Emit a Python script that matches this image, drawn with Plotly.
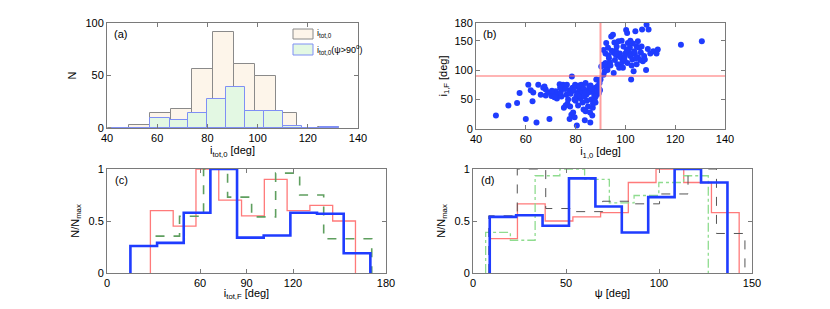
import numpy as np
import plotly.graph_objects as go

# ---------------- Panel (a): histograms of i_tot,0 ----------------
a_all_edges = [40.4, 48.8, 57.1, 65.5, 73.9, 82.2, 90.6, 99.0, 107.3, 115.7, 124.1, 132.4]
a_all_counts = [0, 3, 14, 18, 56, 91, 61, 50, 14, 0, 1]
a_sub_edges = [42.0, 49.6, 57.1, 64.9, 72.2, 79.8, 87.5, 95.0, 102.6, 110.0, 117.5, 125.0, 132.6]
a_sub_counts = [0, 0, 10, 8, 14, 28, 39, 16, 16, 2, 0, 1]

# ---------------- Panel (b): scatter i_1,0 vs i_1,F ----------------
b_x = [48, 53, 56.5, 57.5, 60, 61, 62, 62.7, 64.3, 65,
       67, 68, 68, 69, 69.5, 70.3, 71, 72, 72.5, 73,
       73.6, 74.3, 75, 75.6, 76.3, 76.5, 75.3, 76, 76.7, 77,
       77.6, 78.3, 78.5, 79, 79.6, 80.3, 80.5, 80.8, 81.2, 81.6,
       82, 82.3, 82.8, 83.2, 83.7, 84, 84.3, 84.8, 85, 85.5,
       85.9, 86.2, 86.7, 86.9, 87.2, 87.6, 87.9, 88.1, 88.3, 88.6,
       88.9, 89.2, 89.5, 89.6, 89.4, 74, 74.8, 73.8, 77.5, 78,
       78.8, 79.3, 79.8, 80, 80.6, 81, 81.8, 82.6, 83, 83.5,
       84.5, 85.2, 85.8, 86.5, 87, 70.5, 71.5, 66, 67.5, 63,
       77.8, 79.5, 84, 86, 88, 76, 81.4, 83.8, 87.5, 89.8,
       90, 90.3, 91, 91.2, 91.7, 92, 92.5, 91.2, 92, 92.3,
       93, 93.4, 93.8, 94.3, 95, 95.6, 95.2, 96.2, 97, 97.2,
       97.8, 98, 98.4, 98.8, 99.2, 99.6, 100, 100.3, 100.7, 101,
       101.5, 102, 102.3, 102.8, 103.3, 103.8, 104, 104.5, 105, 105.6,
       106.2, 106.7, 107, 107.5, 108.3, 108.5, 109.3, 109, 110, 111.2,
       113, 112.5, 122.3, 130.7, 94, 95.8, 96.8, 99, 100.8, 104.5,
       106, 93.2, 96.5, 98.5, 101.8, 103, 105, 94.5, 97.5, 99.8,
       102.5, 104.2, 107.8, 92.8, 95.3, 96, 100.5, 102, 103.6, 106.5]
b_y = [23, 40, 44, 61, 17, 75, 66, 47, 11, 75,
       70, 67, 57, 62, 17, 56, 60, 64, 52, 58,
       76, 55, 75, 72, 58, 75, 36, 40, 43, 50,
       17, 24, 89, 28, 20, 55, 6, 72, 62, 68,
       52, 75, 45, 33, 15, 30, 58, 66, 38, 72,
       11, 50, 23, 36, 62, 50, 70, 55, 84, 65,
       73, 60, 68, 78, 62, 62, 68, 70, 66, 60,
       70, 65, 75, 48, 58, 40, 56, 64, 70, 55,
       48, 62, 28, 68, 43, 65, 54, 58, 72, 62,
       38, 50, 78, 74, 45, 68, 74, 62, 56, 66,
       84, 106, 109, 92, 98, 112, 104, 134, 128, 146,
       138, 120, 113, 157, 160, 147, 130, 133, 125, 149,
       128, 122, 106, 114, 140, 118, 128, 168, 163, 146,
       130, 124, 84, 118, 98, 128, 166, 140, 122, 138,
       130, 169, 115, 124, 100, 177, 169, 136, 128, 132,
       135, 128, 143, 149, 108, 117, 110, 104, 112, 110,
       117, 125, 140, 150, 138, 145, 149, 133, 104, 124,
       108, 120, 118, 100, 95, 127, 135, 150, 132, 140]
b_threshold = 90

# ---------------- Panel (c): normalised distributions of i_tot,F ----------------
c_red_edges = [28.0, 42.7, 57.4, 72.1, 86.8, 101.5, 116.2, 130.9, 145.6, 160.3]
c_red_vals = [0.60, 0.45, 1.00, 0.70, 0.55, 0.90, 0.60, 0.65, 0.50]
c_green_edges = [31.3, 46.8, 62.3, 77.8, 93.3, 108.8, 124.3, 139.8, 155.3, 170.8]
c_green_vals = [0.355, 0.545, 1.00, 0.73, 0.54, 0.96, 0.75, 0.33, 0.33]
c_blue_edges = [15.1, 32.3, 49.5, 66.7, 83.9, 101.1, 118.3, 135.5, 152.7, 169.9]
c_blue_vals = [0.26, 0.29, 0.58, 1.00, 0.34, 0.36, 0.58, 0.57, 0.19]

# ---------------- Panel (d): normalised distributions of psi ----------------
d_red_edges = [9.0, 23.9, 38.8, 53.7, 68.6, 83.5, 98.4, 113.3, 128.2, 143.1]
d_red_vals = [0.33, 0.665, 0.50, 0.54, 0.58, 0.87, 1.00, 0.87, 0.58]
d_green_edges = [6.8, 20.1, 33.4, 46.7, 60.0, 73.3, 86.6, 99.9, 113.2, 126.5]
d_green_vals = [0.39, 0.315, 0.935, 1.00, 0.90, 0.675, 0.745, 0.87, 0.935]
d_black_edges = [8.5, 23.8, 39.1, 54.4, 69.7, 85.0, 100.3, 115.6, 130.9, 146.2]
d_black_vals = [0.55, 1.00, 0.62, 0.59, 0.69, 0.665, 0.76, 1.00, 0.38]
d_blue_edges = [9.0, 23.2, 37.4, 51.6, 65.8, 80.0, 94.2, 108.4, 122.6, 136.8]
d_blue_vals = [0.54, 0.555, 0.455, 0.91, 0.64, 0.39, 0.73, 1.00, 0.87]

# ---------------- styling ----------------
FONT = "Liberation Sans, Arial, Helvetica, sans-serif"
AX_COL = "#7a7a7a"
RED = "#ff7a7a"
BLUE = "#1f3cff"
OFF = 8                      # default page body margin
W, H = 830 - 2 * OFF, 309 - 2 * OFF


def px_dom_x(a, b):
    return [(a - OFF) / W, (b - OFF) / W]


def px_dom_y(top, bottom):
    return [1 - (bottom - OFF) / H, 1 - (top - OFF) / H]


def px_x(a):
    return (a - OFF) / W


def px_y(b):
    return 1 - (b - OFF) / H


def stairs(edges, vals, start_zero=True):
    xs = list(edges)
    ys = list(vals) + [0]
    if start_zero:
        xs = [edges[0]] + xs
        ys = [0] + ys
    return xs, ys


fig = go.Figure()

# Panel (a) bars
ae = np.array(a_all_edges)
fig.add_trace(go.Bar(x=(ae[:-1] + ae[1:]) / 2, y=a_all_counts, width=np.diff(ae),
                     marker=dict(color="#fdf5ea", line=dict(color="#8a8a8a", width=1)),
                     xaxis="x", yaxis="y", showlegend=False))
se = np.array(a_sub_edges)
fig.add_trace(go.Bar(x=(se[:-1] + se[1:]) / 2, y=a_sub_counts, width=np.diff(se),
                     marker=dict(color="#e3f8e3", line=dict(color="#7f8ff5", width=1)),
                     xaxis="x", yaxis="y", showlegend=False))

# Panel (b) scatter + thresholds
fig.add_trace(go.Scatter(x=b_x, y=b_y, mode="markers",
                         marker=dict(color=BLUE, size=6, line=dict(width=0)),
                         xaxis="x2", yaxis="y2", showlegend=False))
fig.add_trace(go.Scatter(x=[b_threshold, b_threshold], y=[0, 180], mode="lines",
                         line=dict(color="#ff9f9f", width=2),
                         xaxis="x2", yaxis="y2", showlegend=False))
fig.add_trace(go.Scatter(x=[40, 140], y=[b_threshold, b_threshold], mode="lines",
                         line=dict(color="#ff6a6a", width=1.2),
                         xaxis="x2", yaxis="y2", showlegend=False))

# Panel (c) stairs
for edges, vals, col, wid, dash, sz in [
    (c_red_edges, c_red_vals, RED, 1.3, "solid", True),
    (c_green_edges, c_green_vals, "#5f9f5f", 1.6, "dash", False),
    (c_blue_edges, c_blue_vals, BLUE, 2.6, "solid", True),
]:
    xs, ys = stairs(edges, vals, sz)
    fig.add_trace(go.Scatter(x=xs, y=ys, mode="lines", line_shape="hv",
                             line=dict(color=col, width=wid, dash=dash),
                             xaxis="x3", yaxis="y3", showlegend=False))

# Panel (d) stairs
for edges, vals, col, wid, dash in [
    (d_red_edges, d_red_vals, RED, 1.3, "solid"),
    (d_green_edges, d_green_vals, "#8fdc8f", 1.3, "dashdot"),
    (d_black_edges, d_black_vals, "#555555", 1.0, "dash"),
    (d_blue_edges, d_blue_vals, BLUE, 2.6, "solid"),
]:
    xs, ys = stairs(edges, vals, True)
    fig.add_trace(go.Scatter(x=xs, y=ys, mode="lines", line_shape="hv",
                             line=dict(color=col, width=wid, dash=dash),
                             xaxis="x4", yaxis="y4", showlegend=False))


def ax(domain, rng, tickvals, anchor, title=None, standoff=2):
    d = dict(domain=domain, range=rng, tickvals=tickvals, anchor=anchor,
             automargin=False,
             showgrid=False, zeroline=False, showline=True, linecolor=AX_COL,
             linewidth=1, mirror="ticks", ticks="inside", ticklen=4,
             tickcolor=AX_COL, tickfont=dict(size=11, color="black", family=FONT))
    if title:
        d["title"] = dict(text=title, font=dict(size=11, color="black", family=FONT),
                          standoff=standoff)
    return d


fig.update_layout(
    width=W, height=H, margin=dict(l=0, r=0, t=0, b=0, autoexpand=False),
    paper_bgcolor="white", plot_bgcolor="white",
    barmode="overlay", bargap=0,
    font=dict(family=FONT, size=11, color="black"),
    xaxis=ax(px_dom_x(107, 358), [40, 140], [40, 60, 80, 100, 120, 140], "y",
             "i<sub>tot,0</sub> [deg]", standoff=0),
    yaxis=ax(px_dom_y(23, 128), [0, 100], [0, 50, 100], "x", "N", standoff=6),
    xaxis2=ax(px_dom_x(476, 725), [40, 140], [40, 60, 80, 100, 120, 140], "y2",
              "i<sub>1,0</sub> [deg]", standoff=0),
    yaxis2=ax(px_dom_y(23, 129), [0, 180], [0, 50, 100, 150, 180], "x2",
              "i<sub>1,F</sub> [deg]", standoff=4),
    xaxis3=ax(px_dom_x(107, 386), [0, 180], [0, 60, 90, 120, 180], "y3",
              "i<sub>tot,F</sub> [deg]", standoff=2),
    yaxis3=ax(px_dom_y(169, 273), [0, 1], [0, 0.5, 1], "x3",
              "N/N<sub>max</sub>", standoff=6),
    xaxis4=ax(px_dom_x(473, 752), [0, 150], [0, 50, 100, 150], "y4",
              "ψ [deg]", standoff=1),
    yaxis4=ax(px_dom_y(169, 273), [0, 1], [0, 0.5, 1], "x4",
              "N/N<sub>max</sub>", standoff=6),
)

# Panel labels
for lab, xr, yr in [("(a)", "x domain", "y domain"), ("(b)", "x2 domain", "y2 domain"),
                    ("(c)", "x3 domain", "y3 domain"), ("(d)", "x4 domain", "y4 domain")]:
    fig.add_annotation(text=lab, xref=xr, yref=yr, x=0.02, y=0.97,
                       xanchor="left", yanchor="top", showarrow=False,
                       font=dict(size=11, color="black", family=FONT))

# Legend of panel (a) (drawn manually in the MATLAB style)
leg = [("#fdf5ea", "#8a8a8a", "i<sub>tot,0</sub>", 29, 39),
       ("#e3f8e3", "#7f8ff5", "i<sub>tot,0</sub>(ψ>90<sup>o</sup>)", 44, 55)]
for fill, edge, txt, top, bot in leg:
    fig.add_shape(type="rect", xref="paper", yref="paper",
                  x0=px_x(293), x1=px_x(313), y0=px_y(bot), y1=px_y(top),
                  fillcolor=fill, line=dict(color=edge, width=1))
    fig.add_annotation(text=txt, xref="paper", yref="paper", x=px_x(315),
                       y=px_y((top + bot) / 2), xanchor="left", yanchor="middle",
                       showarrow=False, font=dict(size=9, color="black", family=FONT))

fig.write_html("out.html")
